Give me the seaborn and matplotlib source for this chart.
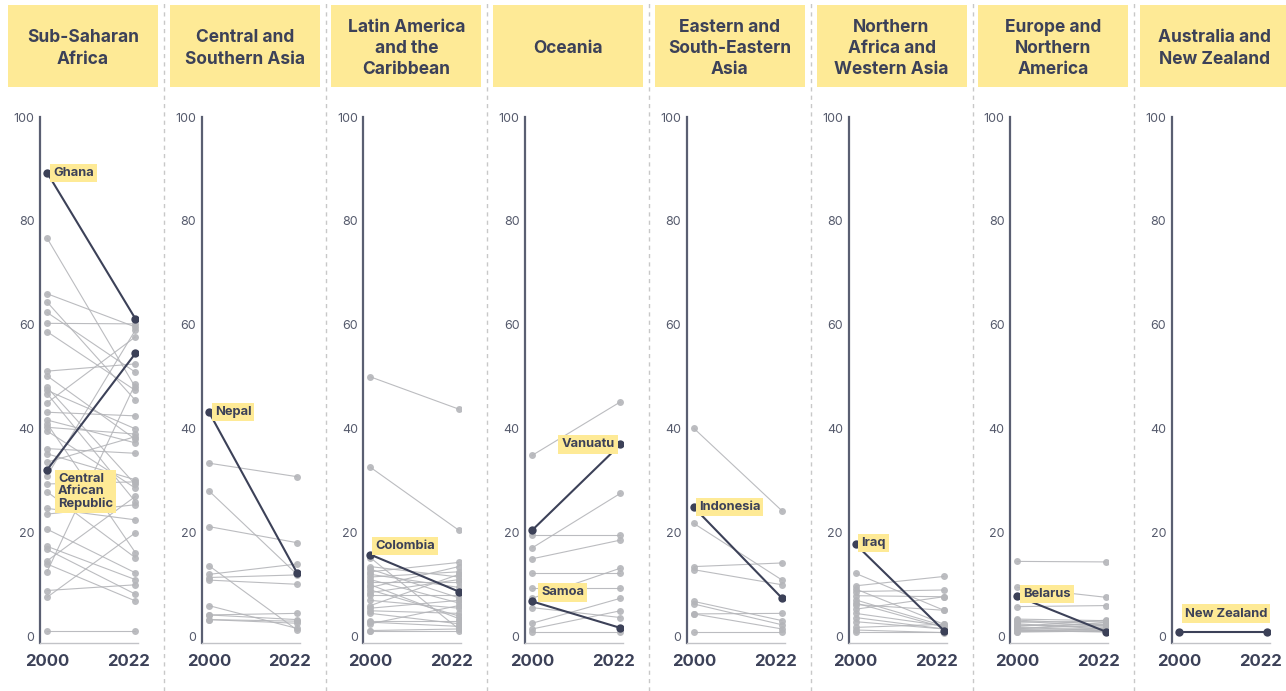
import pandas as pd
import matplotlib.pyplot as plt
import seaborn as sns
from matplotlib.patches import Rectangle
from matplotlib.lines import Line2D

# Region titles
regions = ["Sub-Saharan\nAfrica", "Central and\nSouthern Asia", "Latin America\nand the\nCaribbean",
           "Oceania", "Eastern and\nSouth-Eastern\nAsia", "Northern\nAfrica and\nWestern Asia",
           "Europe and\nNorthern\nAmerica", "Australia and\nNew Zealand"]

# Other countries per region: values in 2000 and in 2022
gray_2000 = [
    [76.7, 66, 64.4, 62.4, 60.3, 58.7, 51.1, 50.2, 48, 47.4, 46.8, 45, 43.2, 41.7, 41, 40.3, 39.6,
     36.2, 35.2, 33.6, 31, 29.4, 27.9, 24.7, 23.6, 20.7, 17.4, 16.8, 14.6, 14, 12.5, 8.9, 7.6, 1.2],
    [33.4, 28.1, 21.2, 13.7, 12, 11.4, 10.9, 6, 4.2, 4.2, 3.3, 3.3],
    [50, 32.6, 15.2, 13.5, 13, 12.5, 12, 11.5, 11, 10.5, 10, 9.5, 9, 8.5, 8, 7, 6, 5.5, 5, 4.5,
     3, 2.8, 2.5, 1.2, 1.2],
    [34.9, 19.6, 17.1, 15, 12.2, 9.3, 7.4, 5.6, 2.6, 1.5, 1],
    [40.1, 21.8, 13.5, 12.9, 6.8, 6.3, 4.4, 4.4, 1],
    [12.2, 9.8, 9.2, 8.7, 7.9, 7.1, 6.5, 6.2, 5.3, 4.5, 3.7, 2.9, 1.8, 1.3, 1],
    [14.5, 9.5, 5.8, 3.4, 3.2, 3, 2.8, 2.5, 2.3, 2.1, 2, 1.8, 1.6, 1.5, 1.4, 1.3, 1.2, 1.1, 1, 0.9],
    [],
]
gray_2022 = [
    [48, 59.6, 45.5, 50.9, 60.2, 47.4, 52.5, 38, 29.3, 40, 26, 57.7, 42.5, 37.3, 16.2, 39, 28.6,
     35.3, 30.2, 38.5, 59, 29.8, 15.2, 22.5, 25.4, 12.3, 11, 8.2, 27, 6.9, 48.7, 10, 20, 1.2],
    [30.8, 12.0, 18.1, 1.3, 14, 11.9, 10.1, 1.6, 4.5, 3.3, 3.0, 2.6],
    [43.8, 20.5, 1.5, 11.5, 7.5, 14.3, 9.5, 12.5, 6.5, 10.5, 3.5, 13.5, 4, 11, 8, 5.5, 12, 7,
     4.5, 2.5, 3, 2, 6, 1.2, 1.5],
    [45.2, 19.6, 27.6, 18.6, 12.2, 9.3, 13.2, 3.7, 7.4, 5, 1],
    [24.2, 10.9, 14.2, 10, 3.1, 2.3, 4.5, 1.5, 1],
    [5.1, 11.6, 2.4, 9, 7.7, 2.1, 1.8, 5.1, 7.7, 2.1, 1.5, 1.5, 2.4, 0.8, 1],
    [14.4, 7.6, 6.0, 3.1, 2.4, 2, 3.0, 1.5, 1.8, 2.4, 3.2, 1.2, 2.2, 2.8, 1.6, 1, 0.9, 1.5, 1.2, 1.1],
    [],
]

# Highlighted countries
hl_names = [["Ghana", "Central\nAfrican\nRepublic"], ["Nepal"], ["Colombia"], ["Vanuatu", "Samoa"],
            ["Indonesia"], ["Iraq"], ["Belarus"], ["New Zealand"]]
hl_2000 = [[89.3, 32.1], [43.3], [15.8], [20.5, 6.8], [24.9], [17.8], [7.8], [1.0]]
hl_2022 = [[61.2, 54.5], [12.3], [8.7], [37.0, 1.7], [7.4], [1.2], [1.0], [1.0]]

years = ["2000", "2022"]

# label placement: anchor year index, dx, dy (pixels), ha, va
label_pos = {
    "Ghana": (0, 6, 0, "left", "center"),
    "Central\nAfrican\nRepublic": (0, 11, -3, "left", "top"),
    "Nepal": (0, 6, 0, "left", "center"),
    "Colombia": (0, 5, 9, "left", "center"),
    "Vanuatu": (1, -6, 0, "right", "center"),
    "Samoa": (0, 9, 9, "left", "center"),
    "Indonesia": (0, 5, 0, "left", "center"),
    "Iraq": (0, 6, 1, "left", "center"),
    "Belarus": (0, 6, 2, "left", "center"),
    "New Zealand": (0, 6, 18, "left", "center"),
}

rows = []
for r in range(len(regions)):
    for i, (a, b) in enumerate(zip(gray_2000[r], gray_2022[r])):
        rows.append((r, f"g{i}", 0, a, "gray"))
        rows.append((r, f"g{i}", 1, b, "gray"))
    for n, a, b in zip(hl_names[r], hl_2000[r], hl_2022[r]):
        rows.append((r, n, 0, a, "hl"))
        rows.append((r, n, 1, b, "hl"))
df = pd.DataFrame(rows, columns=["region", "country", "x", "value", "kind"])

DARK = "#3c4158"
GRAY = "#b4b5b9"
YELLOW = "#feea96"

sns.set_style("white")
plt.rcParams["font.family"] = ["Inter", "DejaVu Sans"]

W, H = 1286, 691
fig = plt.figure(figsize=(W / 100, H / 100), dpi=100)
step = 161.7

for k in range(len(regions)):
    left = 40 + step * k
    ax = fig.add_axes([left / W, 48 / H, 98 / W, 526 / H])
    sub = df[df.region == k]
    g = sub[sub.kind == "gray"]
    h = sub[sub.kind == "hl"]
    if len(g):
        sns.lineplot(data=g, x="x", y="value", units="country", estimator=None, sort=False,
                     color=GRAY, lw=0.8, alpha=0.9, marker="o", markersize=5,
                     markeredgewidth=0, ax=ax, legend=False, zorder=2)
    sns.lineplot(data=h, x="x", y="value", units="country", estimator=None, sort=False,
                 color=DARK, lw=1.5, marker="o", markersize=6, markeredgewidth=0,
                 ax=ax, legend=False, zorder=4)
    for n, a, b in zip(hl_names[k], hl_2000[k], hl_2022[k]):
        yi, dx, dy, ha, va = label_pos[n]
        ax.annotate(n, ((0, 1)[yi], (a, b)[yi]), xytext=(dx * 0.72, dy * 0.72),
                    textcoords="offset points", ha=ha, va=va, fontsize=9.3, fontweight="bold",
                    color=DARK, linespacing=1.05, zorder=6, annotation_clip=False,
                    bbox=dict(facecolor=YELLOW, edgecolor="none", pad=2.2))
    ax.set_xlim(-0.08, 1.03)
    ax.set_ylim(-1.2, 100)
    ax.set_yticks([0, 20, 40, 60, 80, 100])
    ax.set_xticks([0, 0.92])
    ax.set_xticklabels(years, fontsize=12, fontweight="bold", color=DARK)
    ax.tick_params(axis="x", length=0, pad=8)
    ax.tick_params(axis="y", direction="in", length=4, width=1.5, color="#4b5066",
                   labelsize=9, labelcolor="#555a6c", pad=4)
    ax.set_xlabel("")
    ax.set_ylabel("")
    for s in ["top", "right"]:
        ax.spines[s].set_visible(False)
    ax.spines["left"].set_color("#5a5f72")
    ax.spines["left"].set_linewidth(1.6)
    ax.spines["bottom"].set_color("#c2c3c7")
    ax.spines["bottom"].set_linewidth(1)
    ax.patch.set_alpha(0)

    # title box
    bx = 8 + step * k
    fig.add_artist(Rectangle((bx / W, 1 - 87 / H), 150 / W, 82 / H, transform=fig.transFigure,
                             facecolor=YELLOW, edgecolor="none", zorder=0))
    fig.text((bx + 75) / W, 1 - 48.5 / H, regions[k], ha="center", va="center", fontsize=12.5,
             fontweight="bold", color=DARK, linespacing=1.32)

    # dashed separator
    if k > 0:
        sx = 164 + step * (k - 1)
        fig.add_artist(Line2D([sx / W, sx / W], [0, 1], transform=fig.transFigure,
                              color="#c8c8c8", lw=1, ls=(0, (3, 3))))

fig.savefig("out.png", dpi=100)
